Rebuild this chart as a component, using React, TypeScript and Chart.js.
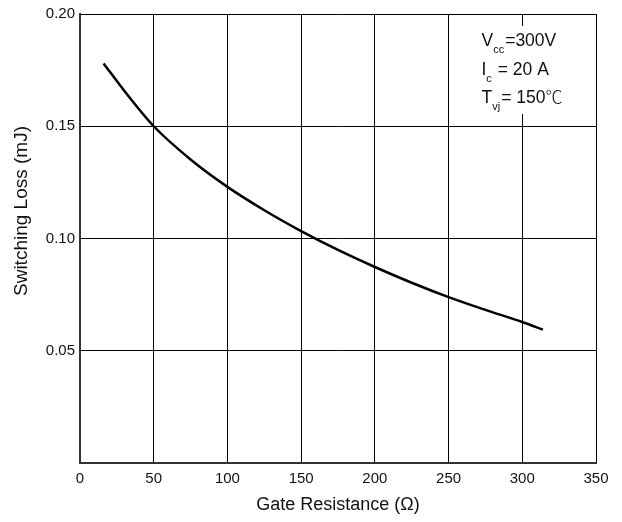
import React, { useEffect, useRef } from "react";
import { Chart, registerables } from "chart.js";

Chart.register(...registerables);

const gateResistance = [16, 30, 50, 75, 100, 125, 150, 175, 200, 225, 250, 275, 300, 314];
const switchingLoss = [0.178, 0.1658, 0.150, 0.1352, 0.123, 0.1126, 0.1033, 0.0949, 0.0873, 0.0803, 0.0739, 0.0682, 0.0628, 0.0594];

const xTitle = "Gate Resistance (Ω)";
const yTitle = "Switching Loss (mJ)";
const conditions: [string, string, string, string][] = [
  ["V", "cc", "=300V", ""],
  ["I", "c", " = 20 A", ""],
  ["T", "vj", "= 150", "℃"],
];

const FONT = '"Liberation Sans", Arial, sans-serif';
const CJK = '"Noto Sans CJK SC", sans-serif';

const annotationsPlugin = {
  id: "annotations",
  afterDraw(chart: any) {
    const { ctx, chartArea } = chart;
    ctx.save();
    // condition box
    ctx.fillStyle = "#fff";
    ctx.fillRect(chartArea.right - 120, chartArea.top + 12, 105, 88);
    ctx.fillStyle = "#111";
    ctx.textBaseline = "alphabetic";
    ctx.textAlign = "left";
    const x0 = chartArea.right - 114.5;
    let y = chartArea.top + 32;
    for (const [main, sub, rest, unit] of conditions) {
      let x = x0;
      ctx.font = `17.5px ${FONT}`;
      ctx.fillText(main, x, y);
      x += ctx.measureText(main).width;
      ctx.font = `11px ${FONT}`;
      ctx.fillText(sub, x, y + 7);
      x += ctx.measureText(sub).width + 1;
      ctx.font = `17.5px ${FONT}`;
      ctx.fillText(rest, x, y);
      x += ctx.measureText(rest).width;
      if (unit) {
        ctx.font = `300 17px ${CJK}`;
        ctx.fillText(unit, x, y);
      }
      y += 28.5;
    }
    // y-axis title
    ctx.translate(22, chartArea.top + 197);
    ctx.rotate(-Math.PI / 2);
    ctx.textAlign = "center";
    ctx.textBaseline = "middle";
    ctx.font = `19px ${FONT}`;
    ctx.fillText(yTitle, 0, 0);
    ctx.restore();
  },
};

export default function App() {
  const ref = useRef<HTMLCanvasElement>(null);
  useEffect(() => {
    const chart = new Chart(ref.current!, {
      type: "line",
      data: {
        datasets: [
          {
            data: gateResistance.map((x, i) => ({ x, y: switchingLoss[i] })),
            borderColor: "#000",
            borderWidth: 2.5,
            pointRadius: 0,
            cubicInterpolationMode: "monotone",
            fill: false,
          },
        ],
      },
      options: {
        responsive: false,
        animation: false,
        layout: { padding: { top: 13, right: 26, left: 0, bottom: 0 } },
        plugins: { legend: { display: false }, tooltip: { enabled: false } },
        scales: {
          x: {
            type: "linear",
            min: 0,
            max: 350,
            afterFit: (s: any) => {
              s.height = 59;
            },
            ticks: {
              stepSize: 50,
              padding: 7,
              color: "#111",
              font: { family: FONT, size: 15 },
              maxRotation: 0,
            },
            grid: { color: "#000", lineWidth: 1, drawTicks: false },
            border: { color: "#333", width: 2 },
            title: {
              display: true,
              text: xTitle,
              color: "#111",
              font: { family: FONT, size: 18 },
              padding: { top: 0, bottom: 6 },
            },
          },
          y: {
            type: "linear",
            min: 0,
            max: 0.2,
            afterFit: (s: any) => {
              s.width = 80;
            },
            ticks: {
              stepSize: 0.05,
              padding: 5,
              color: "#111",
              font: { family: FONT, size: 15 },
              callback: (v: any) => (Number(v) === 0 ? "" : Number(v).toFixed(2)),
            },
            grid: { color: "#000", lineWidth: 1, drawTicks: false },
            border: { color: "#333", width: 2 },
          },
        },
      },
      plugins: [annotationsPlugin],
    } as any);
    return () => chart.destroy();
  }, []);
  return (
    <div style={{ position: "absolute", left: 0, top: 0, width: 622, height: 522, background: "#fff" }}>
      <canvas ref={ref} width={622} height={522} style={{ display: "block" }} />
    </div>
  );
}
